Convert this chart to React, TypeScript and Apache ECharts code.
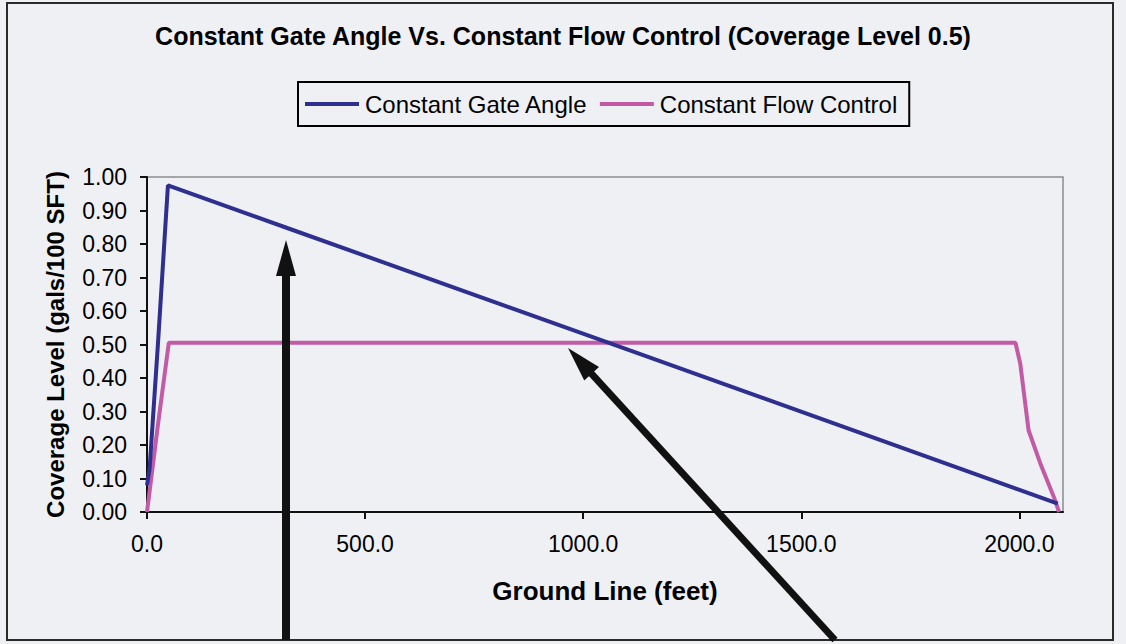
import React, { useEffect, useRef } from "react";
import * as echarts from "echarts";

const titleText = "Constant Gate Angle Vs. Constant Flow Control (Coverage Level 0.5)";
const seriesNames = ["Constant Gate Angle", "Constant Flow Control"];
const xAxisName = "Ground Line (feet)";
const yAxisName = "Coverage Level (gals/100 SFT)";

const xTicks = [0, 500, 1000, 1500, 2000];

// Constant Gate Angle (feet, coverage)
const gateX = [0, 6, 25, 48, 323, 1059, 2088];
const gateY = [0.08, 0.13, 0.5, 0.975, 0.847, 0.505, 0.025];

// Constant Flow Control (feet, coverage)
const flowX = [0, 25, 50, 1991, 2002, 2021, 2048, 2079, 2091];
const flowY = [0, 0.26, 0.505, 0.505, 0.443, 0.244, 0.145, 0.045, 0];

const FONT = "'Liberation Sans', Arial, sans-serif";

export default function App() {
  const ref = useRef<HTMLDivElement>(null);
  useEffect(() => {
    if (!ref.current) return;
    const chart = echarts.init(ref.current, undefined, { renderer: "svg" });
    const gateData = gateX.map((x, i) => [x, gateY[i]]);
    const flowData = flowX.map((x, i) => [x, flowY[i]]);

    // annotation arrows
    const tip2 = [568, 348];
    const tail2 = [835, 640];
    const dx = tail2[0] - tip2[0];
    const dy = tail2[1] - tip2[1];
    const len = Math.sqrt(dx * dx + dy * dy);
    const ux = dx / len, uy = dy / len;
    const hl = 35, hw = 10;
    const bx = tip2[0] + ux * hl, by = tip2[1] + uy * hl;
    const px = -uy * hw, py = ux * hw;

    chart.setOption({
      animation: false,
      backgroundColor: "#eff0f4",
      textStyle: { fontFamily: FONT },
      title: {
        text: titleText,
        left: "center",
        top: 23,
        padding: 0,
        textStyle: { fontFamily: FONT, fontSize: 25, fontWeight: "bold", color: "#000" },
      },
      legend: {
        data: seriesNames,
        left: 298,
        top: 82,
        padding: [10, 12, 10, 7],
        borderColor: "#000",
        borderWidth: 2,
        itemWidth: 54,
        itemHeight: 4,
        itemGap: 12,
        icon: "rect",
        textStyle: { fontFamily: FONT, fontSize: 24, color: "#000", padding: [0, 0, 0, 1] },
      },
      grid: {
        left: 147,
        top: 177,
        width: 916,
        height: 335,
        show: true,
        borderColor: "#8c8c8c",
        borderWidth: 1.5,
        backgroundColor: "transparent",
      },
      xAxis: {
        type: "value",
        min: 0,
        max: 2100,
        name: xAxisName,
        nameLocation: "middle",
        nameGap: 66,
        nameTextStyle: { fontFamily: FONT, fontSize: 26, fontWeight: "bold", color: "#000" },
        axisLine: { lineStyle: { color: "#111", width: 2 } },
        axisTick: { show: true, length: 7, lineStyle: { color: "#111", width: 2 }, customValues: xTicks },
        axisLabel: {
          customValues: xTicks,
          fontFamily: FONT,
          fontSize: 23,
          color: "#000",
          margin: 20,
          formatter: (v: number) => v.toFixed(1),
        },
        splitLine: { show: false },
      },
      yAxis: {
        type: "value",
        min: 0,
        max: 1,
        interval: 0.1,
        name: yAxisName,
        nameLocation: "middle",
        nameGap: 80,
        nameTextStyle: { fontFamily: FONT, fontSize: 24, fontWeight: "bold", color: "#000" },
        axisLine: { show: true, lineStyle: { color: "#111", width: 2 } },
        axisTick: { show: true, length: 7, lineStyle: { color: "#111", width: 2 } },
        axisLabel: {
          fontFamily: FONT,
          fontSize: 23,
          color: "#000",
          margin: 20,
          formatter: (v: number) => v.toFixed(2),
        },
        splitLine: { show: false },
      },
      series: [
        {
          name: seriesNames[0],
          type: "line",
          data: gateData,
          symbol: "none",
          color: "#2e2f8e",
          lineStyle: { width: 4, color: "#2e2f8e" },
          z: 3,
        },
        {
          name: seriesNames[1],
          type: "line",
          data: flowData,
          symbol: "none",
          color: "#c25aa6",
          lineStyle: { width: 4, color: "#c25aa6" },
          z: 2,
        },
      ],
      graphic: [
        {
          type: "rect",
          shape: { x: 7, y: 3, width: 1106, height: 637 },
          style: { fill: "none", stroke: "#2a2a2a", lineWidth: 2 },
          z: 90,
          silent: true,
        },
        {
          type: "line",
          shape: { x1: 286, y1: 272, x2: 286, y2: 640 },
          style: { stroke: "#111", lineWidth: 8 },
          z: 100,
          silent: true,
        },
        {
          type: "polygon",
          shape: { points: [[286, 240], [276, 276], [296, 276]] },
          style: { fill: "#111" },
          z: 100,
          silent: true,
        },
        {
          type: "line",
          shape: { x1: bx - ux * 3, y1: by - uy * 3, x2: tail2[0], y2: tail2[1] },
          style: { stroke: "#111", lineWidth: 7 },
          z: 100,
          silent: true,
        },
        {
          type: "polygon",
          shape: { points: [tip2, [bx + px, by + py], [bx - px, by - py]] },
          style: { fill: "#111" },
          z: 100,
          silent: true,
        },
      ],
    });
    return () => chart.dispose();
  }, []);
  return (
    <div
      ref={ref}
      style={{ position: "absolute", left: 0, top: 0, width: 1126, height: 644, background: "#eff0f4" }}
    />
  );
}
